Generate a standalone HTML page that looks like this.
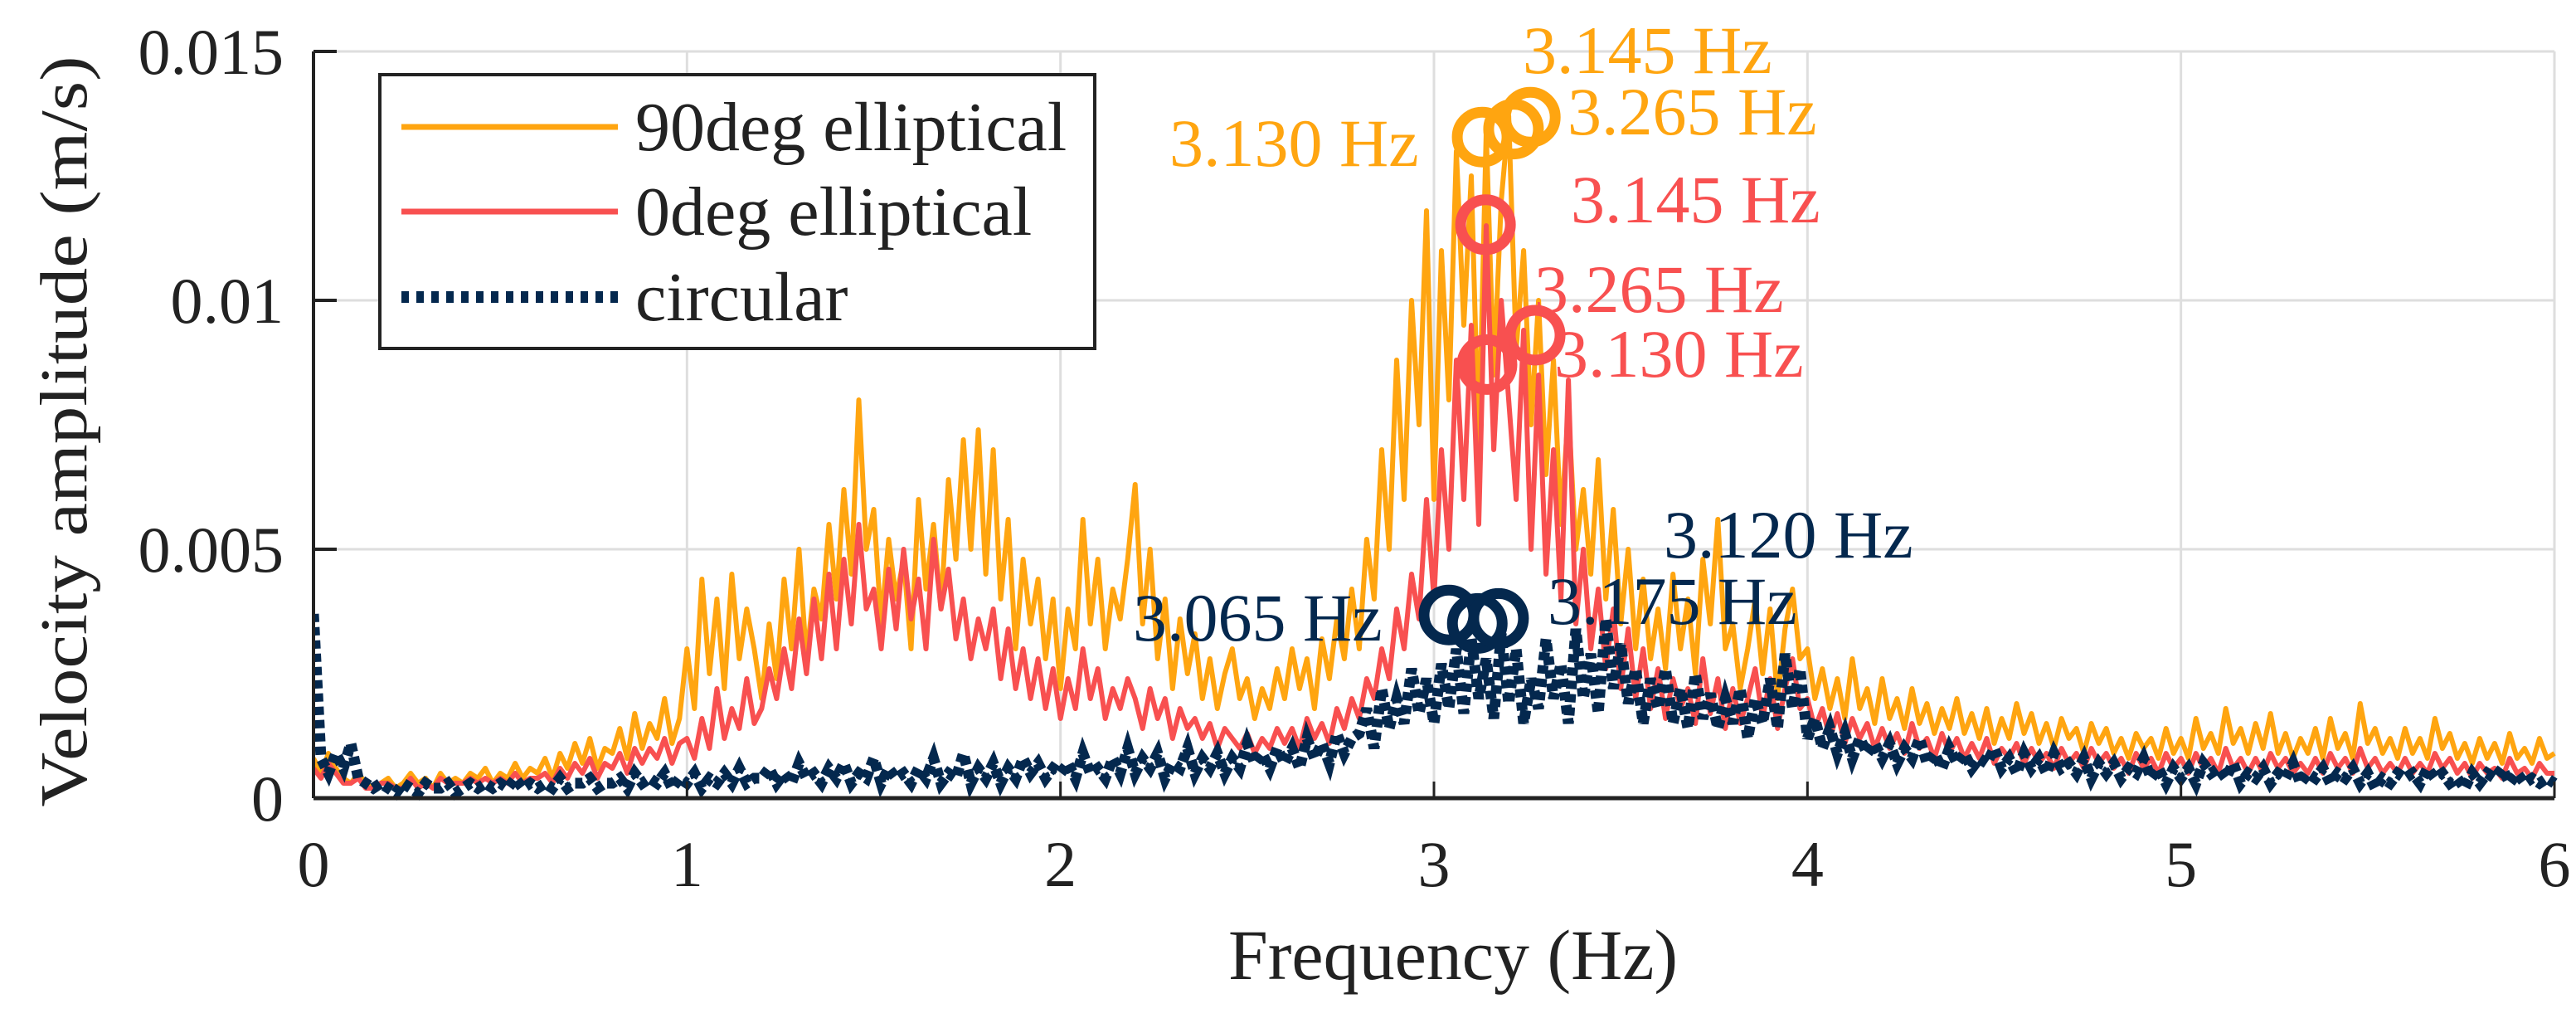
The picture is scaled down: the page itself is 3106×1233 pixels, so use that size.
<!DOCTYPE html>
<html><head><meta charset="utf-8"><style>
html,body{margin:0;padding:0;background:#fff;width:3106px;height:1233px;overflow:hidden}
svg{display:block;font-family:"Liberation Serif",serif}
</style></head><body>
<svg id="chart" width="3106" height="1233" viewBox="0 0 3106 1233" xmlns="http://www.w3.org/2000/svg">
<defs><clipPath id="pc"><rect x="378" y="40" width="2710" height="930"/></clipPath></defs>
<g id="grid"></g>
<g id="series" clip-path="url(#pc)"></g>
<g id="axes"></g>
<g id="marks"></g>
<text x="0" y="0" transform="translate(104,520) rotate(-90)" text-anchor="middle" font-size="80" fill="#222" textLength="905" lengthAdjust="spacingAndGlyphs">Velocity amplitude (m/s)</text>
<text x="1752" y="1180" text-anchor="middle" font-size="86" fill="#222">Frequency (Hz)</text>
<g>
<rect x="458" y="90" width="862" height="330" fill="#fff" stroke="#222" stroke-width="4"/>
<line x1="484" y1="153" x2="745" y2="153" stroke="#FFA510" stroke-width="7"/>
<text x="766" y="181" font-size="84" fill="#222">90deg elliptical</text>
<line x1="484" y1="255" x2="745" y2="255" stroke="#F85050" stroke-width="7"/>
<text x="766" y="283" font-size="84" fill="#222">0deg elliptical</text>
<line x1="484" y1="358" x2="745" y2="358" stroke="#04284E" stroke-width="14" stroke-dasharray="9,9"/>
<text x="766" y="386" font-size="84" fill="#222">circular</text>
</g>
<g font-size="82">
<text x="1836" y="88" fill="#FFA510">3.145 Hz</text>
<text x="1890" y="162" fill="#FFA510">3.265 Hz</text>
<text x="1410" y="200" fill="#FFA510">3.130 Hz</text>
<text x="1894" y="268" fill="#F85050">3.145 Hz</text>
<text x="1850" y="376" fill="#F85050">3.265 Hz</text>
<text x="1874" y="454" fill="#F85050">3.130 Hz</text>
<text x="2006" y="672" fill="#04284E">3.120 Hz</text>
<text x="1366" y="772" fill="#04284E">3.065 Hz</text>
<text x="1866" y="752" fill="#04284E">3.175 Hz</text>
</g>
</svg>
<script>
const xTicks=[0,1,2,3,4,5,6];
const yTicks=[0,0.005,0.01,0.015];
const yTickLabels=["0","0.005","0.01","0.015"];
const freqStep=0.02; // Hz between samples
const amp90=[8,5,9,6,4,3,5,3,2,3, 4,2,3,5,3,4,2,5,3,4, 3,5,4,6,3,5,4,7,4,6, 5,8,4,9,6,11,7,12,6,10, 9,14,8,17,10,15,12,20,11,16,
30,18,44,25,40,22,45,28,38,30, 20,35,24,44,30,50,28,42,36,55, 40,62,45,80,50,58,35,52,40,48, 30,60,42,55,38,64,48,72,50,74, 45,70,40,56,30,48,35,44,28,40,
22,38,30,56,35,48,30,42,36,48, 63,35,50,28,40,22,36,25,33,20, 28,18,25,30,20,24,16,22,18,26, 20,30,22,28,18,32,24,36,28,42, 30,52,40,70,50,88,60,100,75,118,
60,110,80,130,95,125,70,134,85,120, 137,90,110,75,100,65,88,55,78,50, 62,45,68,40,58,35,50,30,44,28, 38,26,45,30,40,25,48,35,56,30, 35,22,30,40,25,38,20,34,42,28,
30,20,26,18,24,16,28,18,22,15, 24,16,20,14,22,15,19,13,18,14, 20,13,17,12,18,11,16,12,19,13, 17,11,15,10,16,12,14,9,15,11, 14,9,12,8,13,10,12,8,14,9,
12,8,16,10,13,9,18,11,14,9, 15,10,17,9,13,8,12,9,14,8, 16,10,13,8,19,11,14,9,12,8, 14,9,12,8,16,10,13,8,11,7, 12,8,11,7,13,8,10,7,12,8, 9];
const amp0=[6,4,7,5,3,3,4,2,2,3, 3,2,2,4,2,3,2,4,3,3, 3,4,3,4,3,4,3,5,3,4, 4,5,3,6,4,7,5,8,4,7, 6,9,5,10,7,10,8,12,7,11,
12,8,16,10,22,12,18,14,24,15, 18,26,20,30,22,36,25,40,28,45, 30,48,35,55,38,42,30,46,34,50, 36,44,30,52,38,46,32,40,28,36, 30,38,24,34,22,30,20,28,18,26,
16,24,18,30,20,26,16,22,18,24, 20,14,22,16,20,12,18,14,16,12, 15,10,14,12,10,13,9,12,10,14, 11,14,10,16,12,15,11,18,14,20, 16,24,20,30,24,38,30,45,36,60,
40,70,50,88,60,95,55,115,70,100, 80,60,94,50,85,45,70,40,84,35, 50,30,42,26,38,22,34,20,30,18, 26,16,24,18,22,15,28,17,24,14, 22,15,20,26,16,24,14,22,28,18,
20,14,18,12,17,11,16,12,15,10, 14,10,13,9,15,10,12,8,13,9, 12,8,11,8,12,7,10,8,11,7, 10,7,9,6,10,7,9,6,10,7, 9,6,8,5,9,6,8,5,9,6,
8,5,9,6,8,5,10,6,8,5, 8,5,9,6,8,5,7,5,8,5, 9,6,8,5,10,6,8,5,7,5, 8,5,7,5,9,6,8,5,7,4, 7,5,6,4,8,5,6,4,7,5, 5];
const ampCirc=[37,8,5,9,6,11,4,3,2,3, 2,1,3,2,1,3,2,2,3,1, 2,3,2,3,2,3,2,4,2,3, 2,3,2,4,2,3,3,4,2,3, 3,4,2,5,3,4,3,5,2,4,
3,5,2,4,3,5,3,6,3,4, 4,6,3,5,3,7,4,5,3,6, 4,7,3,5,4,8,3,6,4,5, 3,6,4,8,3,5,4,9,3,6, 4,7,3,6,4,8,5,7,4,6,
5,7,4,9,5,6,4,8,5,10, 5,8,6,9,4,7,6,10,5,8, 6,9,5,8,6,11,7,9,6,10, 7,10,6,12,8,11,7,13,9,12, 13,18,10,22,14,20,15,26,17,24,
15,27,18,30,17,32,20,28,16,33, 19,30,15,24,18,32,20,27,15,34, 20,29,17,36,22,31,19,26,15,24, 18,26,15,22,14,25,16,21,14,20, 15,22,12,20,15,24,14,29,18,26,
12,16,10,14,9,13,8,12,9,11, 8,11,7,10,8,12,7,9,6,10, 7,9,6,8,7,10,6,8,5,9, 6,8,5,9,6,7,5,8,4,7, 5,7,4,6,5,8,4,6,3,6,
4,6,3,7,5,6,4,7,3,5, 4,6,3,5,4,7,3,5,4,6, 3,5,4,6,3,5,2,4,3,5, 4,5,3,6,4,5,3,4,2,5, 3,5,4,6,3,5,3,4,3,4, 3];
const ampScale=1e-4; // array units: 0.1 mm/s
const peaks90F=[3.129,3.213,3.258]; const peaks90V=[0.01328,0.01344,0.01368];
const peaks0F=[3.138,3.142,3.271]; const peaks0V=[0.01152,0.00871,0.0093];
const peaksCF=[3.04,3.116,3.173]; const peaksCV=[0.00368,0.00351,0.00361];

const X0=378,X1=3080,Y0=962,Ytop=62;
function sx(f){return X0+(f-0)/(6-0)*(X1-X0);}
function sy(v){return Y0-(v/0.015)*(Y0-Ytop);}
const NS="http://www.w3.org/2000/svg";
function mk(tag,parent,attrs){const e=document.createElementNS(NS,tag);for(const k in attrs)e.setAttribute(k,attrs[k]);parent.appendChild(e);return e;}
const grid=document.getElementById('grid'),axes=document.getElementById('axes'),series=document.getElementById('series'),marks=document.getElementById('marks');
xTicks.forEach(t=>{
  const g=mk('line',grid,{x1:sx(t),x2:sx(t),y1:Ytop,y2:Y0,stroke:'#dedede','stroke-width':3});
  
  
  const tk=mk('line',axes,{x1:sx(t),x2:sx(t),y1:Y0,y2:Y0-20,stroke:'#222','stroke-width':3});
  
  
  const lb=mk('text',axes,{x:sx(t),y:1068,'text-anchor':'middle','font-size':78,fill:'#222'});
  lb.textContent=String(t);
  
  
});
yTicks.forEach((t,i)=>{
  const g=mk('line',grid,{x1:X0,x2:X1,y1:sy(t),y2:sy(t),stroke:'#dedede','stroke-width':3});
  
  
  const tk=mk('line',axes,{x1:X0,x2:X0+28,y1:sy(t),y2:sy(t),stroke:'#222','stroke-width':4});
  
  
  const lb=mk('text',axes,{x:342,y:sy(t)+27,'text-anchor':'end','font-size':78,fill:'#222'});
  lb.textContent=yTickLabels[i];
  
  
});
const ax1=mk('line',axes,{x1:X0,x2:X0,y1:Ytop,y2:Y0,stroke:'#222','stroke-width':4});


const ax2=mk('line',axes,{x1:X0,x2:X1,y1:Y0,y2:Y0,stroke:'#222','stroke-width':5});


function pts(arr){return arr.map((v,i)=>sx(i*freqStep).toFixed(1)+','+sy(v*ampScale).toFixed(1)).join(' ');}
const l1=mk('polyline',series,{points:pts(amp90),fill:'none',stroke:'#FFA510','stroke-width':6,'stroke-linejoin':'round'});


const l2=mk('polyline',series,{points:pts(amp0),fill:'none',stroke:'#F85050','stroke-width':6,'stroke-linejoin':'round'});


const l3=mk('polyline',series,{points:pts(ampCirc),fill:'none',stroke:'#04284E','stroke-width':13,'stroke-dasharray':'10,6'});


function circles(F,V,col,name){F.forEach((f,i)=>{
  const c=mk('circle',marks,{cx:sx(f),cy:sy(V[i]),r:30,fill:'none',stroke:col,'stroke-width':13});
  
  
});}
circles(peaks90F,peaks90V,'#FFA510','peak-marker-90deg');
circles(peaks0F,peaks0V,'#F85050','peak-marker-0deg');
circles(peaksCF,peaksCV,'#04284E','peak-marker-circular');
</script>
</body></html>
